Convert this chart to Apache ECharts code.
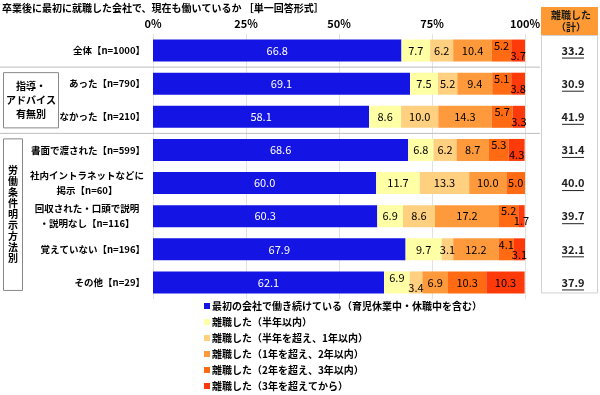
<!DOCTYPE html>
<html><head><meta charset="utf-8">
<script src="https://cdn.jsdelivr.net/npm/echarts@6/dist/echarts.min.js"></script>
<style>html,body{margin:0;padding:0;background:#fff}#c{width:600px;height:395px}</style>
</head><body><div id="c"></div>
<script>
const categories = ['全体【n=1000】','あった【n=790】','なかった【n=210】','書面で渡された【n=599】','社内イントラネットなどに\n掲示【n=60】','回収された・口頭で説明\n・説明なし【n=116】','覚えていない【n=196】','その他【n=29】'];
const seriesNames = ['最初の会社で働き続けている（育児休業中・休職中を含む）','離職した（半年以内）','離職した（半年を超え、1年以内）','離職した（1年を超え、2年以内）','離職した（2年を超え、3年以内）','離職した（3年を超えてから）'];
const continuing = [66.8,69.1,58.1,68.6,60.0,60.3,67.9,62.1];
const within6m   = [7.7,7.5,8.6,6.8,11.7,6.9,9.7,6.9];
const within1y   = [6.2,5.2,10.0,6.2,13.3,8.6,3.1,3.4];
const within2y   = [10.4,9.4,14.3,8.7,10.0,17.2,12.2,6.9];
const within3y   = [5.2,5.1,5.7,5.3,5.0,5.2,4.1,10.3];
const after3y    = [3.7,3.8,3.3,4.3,0,1.7,3.1,10.3];
const leftTotal  = [33.2,30.9,41.9,31.4,40.0,39.7,32.1,37.9];
const xTicks = [0,25,50,75,100];
const groupLabels = ['指導・\nアドバイス\n有無別','労働条件明示方法別'];
const rightHeader = '離職した\n（計）';

const colors = ['#1414E4','#FFFFA6','#FFD080','#FF9A3C','#FF6A12','#FF3A0A'];
const FONT = '"Noto Sans CJK JP", "Noto Sans", sans-serif';
const all = [continuing, within6m, within1y, within2y, within3y, after3y];

function isRaised(si, ri) {
  if (si <= 0 || si >= all.length - 1) return false;
  const v = all[si][ri], n = all[si+1][ri];
  return v < 7 && n > 0 && n < 4.5;
}

const series = all.map((arr, si) => ({
  name: seriesNames[si],
  type: 'bar',
  stack: 'total',
  barWidth: 22,
  itemStyle: { color: colors[si] },
  data: arr.map((v, ri) => {
    let dy = 0;
    if (isRaised(si, ri)) dy = -5;
    else if (isRaised(si - 1, ri)) dy = 5;
    return { value: v, label: { offset: [0, dy], show: v > 0 } };
  }),
  label: {
    show: true, position: 'inside',
    color: si === 0 ? '#fff' : '#000',
    fontSize: 11, fontFamily: FONT,
    formatter: p => p.value.toFixed(1)
  }
}));

const chart = echarts.init(document.getElementById('c'), null, { renderer: 'canvas' });
chart.setOption({
  animation: false,
  backgroundColor: '#fff',
  color: colors,
  title: {
    text: '卒業後に最初に就職した会社で、現在も働いているか ［単一回答形式］',
    left: 2, top: 3, padding: 0,
    textStyle: { fontSize: 10, fontWeight: 'bold', color: '#000', fontFamily: FONT }
  },
  grid: { left: 153, right: 75, top: 34, height: 265 },
  xAxis: {
    type: 'value', position: 'top', min: 0, max: 100, interval: 25,
    axisLine: { show: false }, axisTick: { show: false },
    axisLabel: { margin: 5, fontSize: 11, fontWeight: 'bold', color: '#000', fontFamily: FONT,
      formatter: v => xTicks.includes(v) ? v + '%' : '' },
    splitLine: { show: true, lineStyle: { color: '#e2e2e2' } }
  },
  yAxis: {
    type: 'category', inverse: true, data: categories,
    axisLine: { show: false }, axisTick: { show: false },
    axisLabel: {
      margin: 8, fontSize: 9.5, fontWeight: 'bold', color: '#000', fontFamily: FONT,
      formatter: v => v.indexOf('\n') >= 0 ? v.split('\n').map(s => '{c|' + s + '}').join('\n') : v,
      rich: { c: { width: 116, align: 'center', fontSize: 9.5, fontWeight: 'bold', lineHeight: 15, fontFamily: FONT, color: '#000' } }
    }
  },
  legend: {
    orient: 'vertical', left: 204, top: 300, padding: 0, height: 120,
    itemWidth: 6, itemHeight: 6, icon: 'rect', itemGap: 4,
    textStyle: { fontSize: 10, fontWeight: 'bold', color: '#000', fontFamily: FONT, lineHeight: 12, padding: [0,0,0,-3] },
    data: seriesNames
  },
  series: series
});

// decorations positioned from axis scale
const ys = categories.map(c => chart.convertToPixel({ yAxisIndex: 0 }, c));
const sep1 = (ys[0] + ys[1]) / 2, sep2 = (ys[2] + ys[3]) / 2;
const g = [];
[sep1, sep2].forEach(y => g.push({ type: 'line', shape: { x1: 0, y1: y, x2: 540, y2: y }, style: { stroke: '#bdbdbd', lineWidth: 1 } }));
g.push({ type: 'rect', shape: { x: 3.5, y: sep1 + 5.5, width: 55, height: sep2 - sep1 - 11 }, style: { fill: '#fff', stroke: '#888', lineWidth: 1 } });
g.push({ type: 'text', x: 31, y: (sep1 + sep2) / 2, style: { text: groupLabels[0], fill: '#000', font: 'bold 10px ' + FONT, align: 'center', verticalAlign: 'middle', lineHeight: 14 } });
const boxBottom = ys[7] + 8;
g.push({ type: 'rect', shape: { x: 3.5, y: sep2 + 5.5, width: 19, height: boxBottom - sep2 - 5.5 }, style: { fill: '#fff', stroke: '#888', lineWidth: 1 } });
g.push({ type: 'text', x: 13, y: (sep2 + 5 + boxBottom) / 2, style: { text: groupLabels[1].split('').join('\n'), fill: '#000', font: 'bold 10px ' + FONT, align: 'center', verticalAlign: 'middle', lineHeight: 11 } });
// right panel
g.push({ type: 'rect', shape: { x: 541.5, y: 35.5, width: 56, height: ys[7] + 10 - 35 }, style: { fill: '#fff', stroke: '#d0d0d0', lineWidth: 1 } });
g.push({ type: 'rect', shape: { x: 541, y: 7, width: 57, height: 28 }, style: { fill: '#FF9933' } });
g.push({ type: 'text', x: 571, y: 21, style: { text: rightHeader, fill: '#1a1a1a', font: 'bold 10px ' + FONT, align: 'center', verticalAlign: 'middle', lineHeight: 12 } });
leftTotal.forEach((v, i) => {
  g.push({ type: 'text', x: 573, y: ys[i], style: { text: v.toFixed(1), fill: '#222', font: 'bold 11px ' + FONT, align: 'center', verticalAlign: 'middle' } });
  g.push({ type: 'line', shape: { x1: 562, y1: ys[i] + 7.5, x2: 584, y2: ys[i] + 7.5 }, style: { stroke: '#222', lineWidth: 1 } });
});
chart.setOption({ graphic: g });
</script>
</body></html>
